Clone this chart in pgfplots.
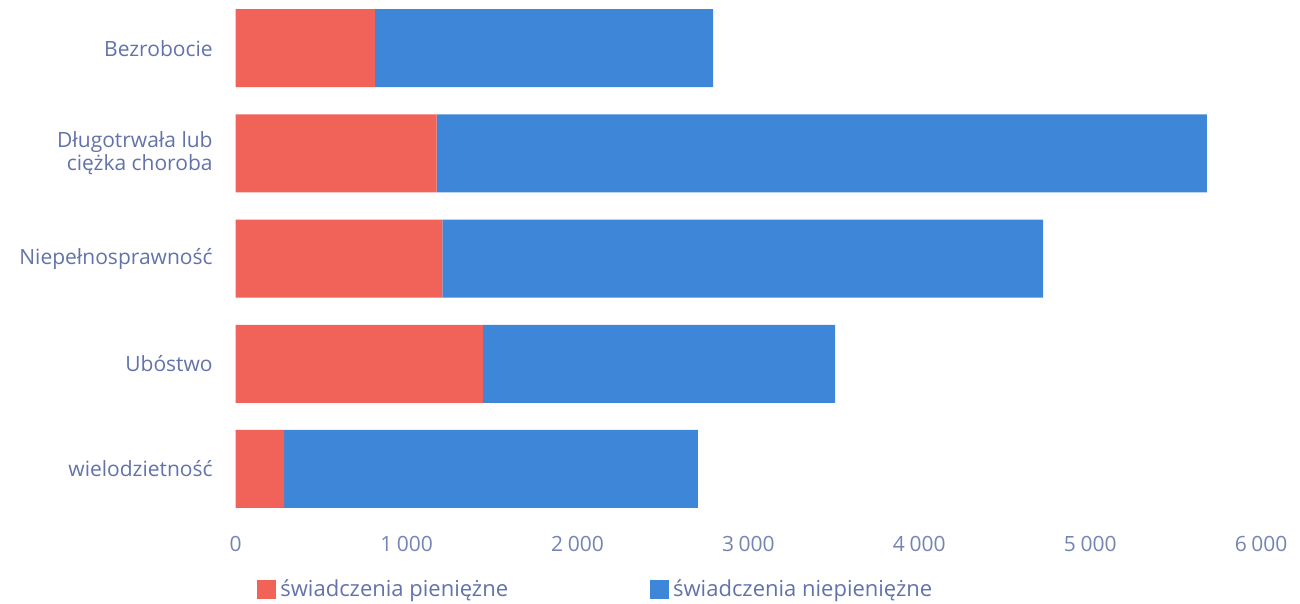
\documentclass[border=0pt]{standalone}
\usepackage{pgfplots}
\pgfplotsset{compat=1.18}
\usepackage{fontspec}
\setmainfont{Open Sans}
\definecolor{cred}{HTML}{F16358}
\definecolor{cblue}{HTML}{3E87D8}
\definecolor{clab}{HTML}{6373A9}
\definecolor{ctick}{HTML}{7484B4}
\begin{document}
\begin{tikzpicture}[x=1pt,y=1pt]
\path[use as bounding box] (0,0) rectangle (650,302);
\begin{axis}[
  at={(117.85pt,41.2pt)}, anchor=south west,
  scale only axis, width=512.7pt, height=260.4pt,
  xmin=0, xmax=6000, ymin=-0.5, ymax=4.45,
  xbar stacked, bar width=39pt,
  axis line style={draw=none}, tick style={draw=none},
  major tick length=0pt,
  xtick={0,1000,...,6000},
  /pgf/number format/assume math mode=true,
  /pgf/number format/1000 sep={\hspace{0.22em}},
  xticklabel style={anchor=center, yshift=-11pt, font=\fontsize{10.5pt}{12pt}\selectfont, text=ctick},
  ytick={0,1,2,3,4},
  yticklabels={wielodzietność, Ubóstwo, Niepełnosprawność, {Długotrwała lub\\ciężka choroba}, Bezrobocie},
  yticklabel style={anchor=east, xshift=-8pt, align=right, font=\fontsize{10.5pt}{11.5pt}\selectfont, text=clab},
  legend columns=2,
  legend style={at={(rel axis cs:0.0149,-0.131)}, anchor=west, draw=none, fill=none,
    font=\fontsize{11pt}{13pt}\selectfont, text=clab,
    /tikz/every even column/.append style={column sep=69pt}},
  legend cell align=left,
  legend image code/.code={\fill[#1] (0pt,-4.75pt) rectangle (9.5pt,4.75pt);},
]
\addplot[fill=cred, draw=none] coordinates {(284,0) (1446,1) (1209,2) (1176,3) (815,4)};
\addplot[fill=cblue, draw=none] coordinates {(2421,0) (2061,1) (3515,2) (4507,3) (1978,4)};
\legend{świadczenia pieniężne, świadczenia niepieniężne}
\end{axis}
\end{tikzpicture}
\end{document}
